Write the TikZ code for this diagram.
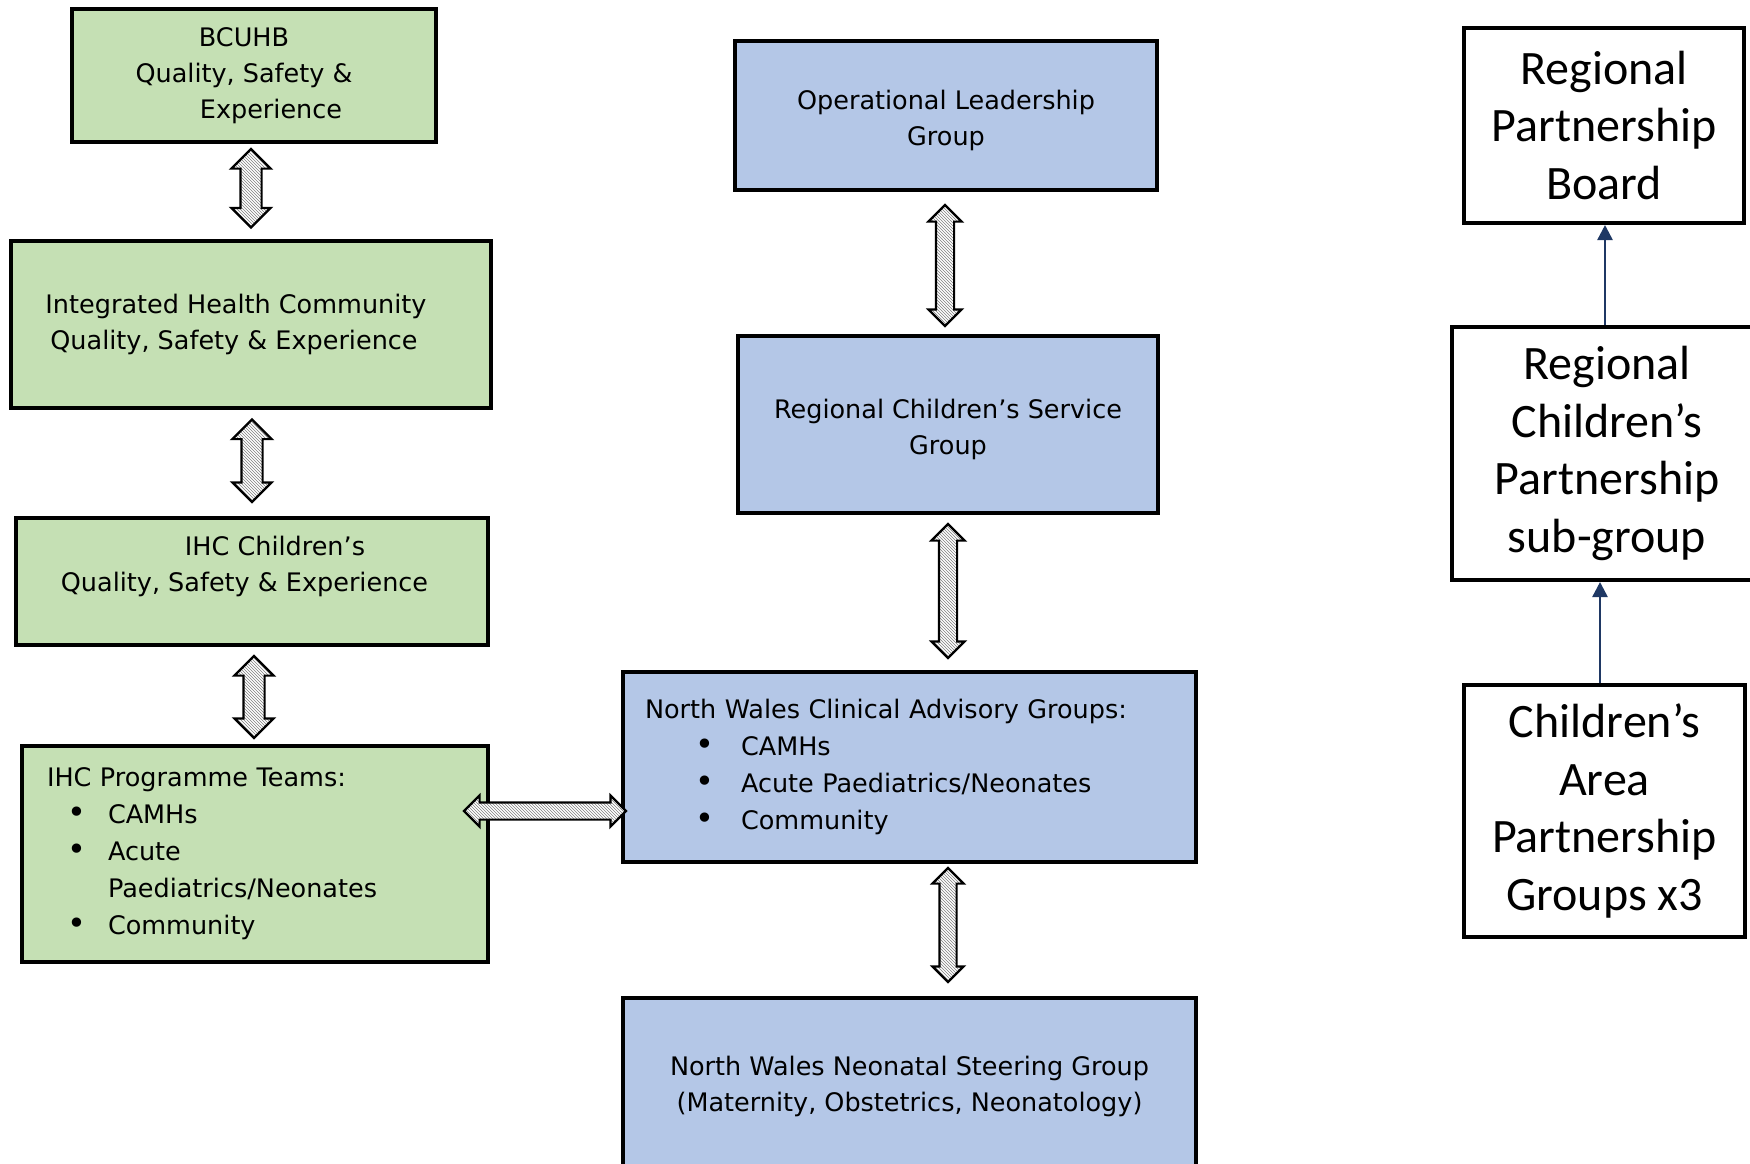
\documentclass[tikz,border=0pt]{standalone}
\usepackage{fontspec}
\setmainfont{Carlito}
\newfontfamily\boxfont{DejaVu Sans}
\usetikzlibrary{calc,shapes.arrows,patterns,arrows.meta}
\definecolor{qsgreen}{HTML}{C5E0B4}
\definecolor{csblue}{HTML}{B4C7E7}
\definecolor{navy}{HTML}{1F3864}
% bullet with indent #1 and text start #2 (pt)
\newcommand{\itm}[2]{\makebox[#2pt][l]{\hspace*{#1pt}{\fontsize{32}{0}\selectfont\textbullet}}}
% hatched two-headed arrow between two points
\newcommand{\fatlink}[4]{%
  \path let \p1=#1, \p2=#2, \n1={veclen(\x2-\x1,\y2-\y1)}, \n2={atan2(\y2-\y1,\x2-\x1)} in
    node[fatarrow, minimum height=\n1, rotate=\n2, inner ysep=#3/2,
         double arrow head extend=(#4-#3)/2] at ($(\p1)!0.5!(\p2)$) {};}
\tikzset{
  box/.style={draw, line width=4pt, inner sep=0pt, align=center,
    font=\boxfont\fontsize{25.5}{36}\selectfont},
  greenbox/.style={box, fill=qsgreen},
  bluebox/.style={box, fill=csblue},
  listbox/.style={align=left, font=\boxfont\fontsize{25.5}{37}\selectfont},
  rpbox/.style={draw, line width=4pt, inner sep=0pt, align=center,
    font=\fontsize{48}{57.5}\selectfont},
  fatarrow/.style={double arrow, draw, line width=2.2pt, inner xsep=0pt,
    preaction={fill=white}, pattern=north west lines, pattern color=gray},
  thinarrow/.style={navy, line width=2.5pt, -{Triangle[length=15pt,width=15pt]}}
}
\begin{document}
\begin{tikzpicture}[x=1pt,y=-1pt]
  \clip (0,0) rectangle (1750,1163);

  % left column
  \node[greenbox, minimum width=364, minimum height=133] (bcuhb) at (254,75.5)
    {\hspace*{-20pt}BCUHB\\\hspace*{-20pt}Quality, Safety \&\\\hspace*{34pt}Experience};
  \node[greenbox, minimum width=480, minimum height=167] (ihq) at (251,324)
    {\hspace*{-30pt}Integrated Health Community\\\hspace*{-34pt}Quality, Safety \& Experience};
  \node[greenbox, minimum width=472, minimum height=127] (ihcc) at (252,581.5)
    {\hspace*{46pt}IHC Children’s\\\hspace*{-15pt}Quality, Safety \& Experience\\\mbox{}};
  \node[greenbox, listbox, minimum height=216, text width=416, inner xsep=25] (prog) at (255,854)
    {IHC Programme Teams:\\\itm{20}{61}CAMHs\\\itm{20}{61}Acute\\\hspace*{61pt}Paediatrics/Neonates\\\itm{20}{61}Community};

  % middle column
  \node[bluebox, minimum width=422, minimum height=149] (olg) at (946,115.5)
    {\rule{0pt}{30pt}Operational Leadership\\Group};
  \node[bluebox, minimum width=420, minimum height=177] (rcsg) at (948,424.5)
    {\rule{0pt}{30pt}Regional Children’s Service\\Group};
  \node[bluebox, listbox, minimum height=190, text width=529, inner xsep=22] (nwcag) at (909.5,767)
    {North Wales Clinical Advisory Groups:\\\itm{50}{96}CAMHs\\\itm{50}{96}Acute Paediatrics/Neonates\\\itm{50}{96}Community};
  \node[bluebox, minimum width=573, minimum height=169] (nwnsg) at (909.5,1082.5)
    {\rule{0pt}{28pt}North Wales Neonatal Steering Group\\(Maternity, Obstetrics, Neonatology)};

  % right column
  \node[rpbox, minimum width=280, minimum height=195] (rpb) at (1604,125.5)
    {Regional\\Partnership\\Board};
  \node[rpbox, minimum width=300, minimum height=253] (rcps) at (1602,453.5)
    {\hspace*{10pt}Regional\\\hspace*{10pt}Children’s\\\hspace*{10pt}Partnership\\\hspace*{10pt}sub-group};
  \node[rpbox, minimum width=281, minimum height=252] (capg) at (1604.5,811)
    {Children’s\\Area\\Partnership\\Groups x3};

  % two-way links
  \fatlink{($(bcuhb.south)+(-3,5)$)}{($(ihq.north)+(0,-11)$)}{19}{37}
  \fatlink{($(ihq.south)+(1,10)$)}{($(ihcc.north)+(0,-14)$)}{19}{37}
  \fatlink{($(ihcc.south)+(2,9)$)}{($(prog.north)+(-1,-6)$)}{19}{37}
  \fatlink{($(olg.south)+(-1,13)$)}{($(rcsg.north)+(-3,-8)$)}{16}{31}
  \fatlink{($(rcsg.south)+(0,9)$)}{($(nwcag.north)+(38.5,-12)$)}{16}{31}
  \fatlink{($(nwcag.south)+(38.5,4)$)}{($(nwnsg.north)+(38.5,-14)$)}{15}{29}
  \fatlink{($(prog.east)+(-26,-43)$)}{($(nwcag.west)+(5,44)$)}{15}{29}

  % reporting lines
  \draw[thinarrow] ($(rcps.north)+(3,0)$) -- ($(rpb.south)+(1,0)$);
  \draw[thinarrow] ($(capg.north)+(-4.5,0)$) -- ($(rcps.south)+(-2,0)$);
\end{tikzpicture}
\end{document}
